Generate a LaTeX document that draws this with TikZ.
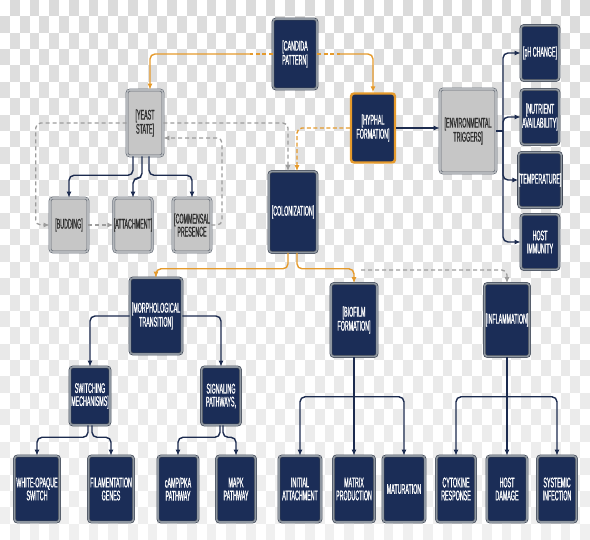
\documentclass[tikz,border=0pt]{standalone}
\usepackage{fontspec}
\usetikzlibrary{arrows.meta,calc}
\newfontfamily\cond{Liberation Sans}[FakeStretch=0.38,FakeBold=0.7]
\definecolor{navyfill}{HTML}{1B2D57}
\definecolor{navyline}{HTML}{1C2B4F}
\definecolor{bandgray}{HTML}{8E96A0}
\definecolor{edgedark}{HTML}{3A4250}
\definecolor{boxgray}{HTML}{C6C6C6}
\definecolor{bandlight}{HTML}{B5B8BC}
\definecolor{orangec}{HTML}{E59A2C}
\definecolor{dashgray}{HTML}{9C9C9C}
\definecolor{textdark}{HTML}{2E2E2E}
\tikzset{
  basebox/.style={rectangle, rounded corners=3pt, inner sep=0pt, align=center,
    font=\cond\fontsize{14}{13}\selectfont},
  navybox/.style={basebox, fill=navyfill, text=white, draw=edgedark, double=bandgray, line width=0.6pt, double distance=1.6pt},
  graybox/.style={basebox, fill=boxgray, text=textdark, draw=edgedark!80, double=bandlight, line width=0.6pt, double distance=1.6pt},
  orangebox/.style={basebox, fill=navyfill, text=white, draw=orangec, line width=2.4pt},
  sz/.style 2 args={minimum width=#1pt, minimum height=#2pt},
  tip/.style={-{Latex[length=6pt,width=5pt]}},
  nline/.style={draw=navyline, line width=1.4pt, rounded corners=5pt},
  oline/.style={draw=orangec, line width=1.4pt, rounded corners=5pt},
  odash/.style={oline, dash pattern=on 4pt off 2.5pt},
  gline/.style={draw=dashgray, line width=1.3pt, rounded corners=5pt, dash pattern=on 4pt off 3pt},
}
\begin{document}
\begin{tikzpicture}[x=1pt,y=-1pt]
\useasboundingbox (0,0) rectangle (590,540);
% checkerboard background
\fill[white] (0,0) rectangle (590,540);
\foreach \i in {0,...,59}{
  \foreach \j in {0,...,32}{
    \pgfmathtruncatemacro\k{mod(\i+\j,2)}
    \ifnum\k=1
      \pgfmathsetmacro\shd{14-8*\j/32}
      \fill[black!\shd] (\i*9.8333,\j*16.3637) rectangle ++(9.8333,16.3637);
    \fi
  }
}
% nodes
\node[navybox, sz={44}{70}] (cand) at (295,54) {[CANDIDA\\PATTERN]};
\node[graybox, sz={36}{66}] (yeast) at (145,123) {[YEAST\\STATE]};
\node[orangebox, sz={44}{69}] (hyph) at (373,128) {[HYPHAL\\FORMATION]};
\node[graybox, sz={56}{84}] (env) at (468,131) {[ENVIRONMENTAL\\TRIGGERS]};
\node[navybox, sz={38}{55}] (ph) at (540,53) {[pH CHANGE]};
\node[navybox, sz={38}{55}] (nutr) at (540,117) {[NUTRIENT\\AVAILABILITY]};
\node[navybox, sz={38}{55}] (temp) at (540,180) {[TEMPERATURE]};
\node[navybox, sz={38}{55}] (himm) at (540,242) {HOST\\IMMUNITY};
\node[graybox, sz={38}{54}] (bud) at (69,225) {[BUDDING]};
\node[graybox, sz={38}{54}] (att) at (133,225) {[ATTACHMENT]};
\node[graybox, sz={38}{54}] (comm) at (192,225) {[COMMENSAL\\PRESENCE};
\node[navybox, sz={48}{81}] (col) at (293,212) {[COLONIZATION]};
\node[navybox, sz={52}{76}] (morph) at (156,316) {[MORPHOLOGICAL\\TRANSITION]};
\node[navybox, sz={46}{73}] (bio) at (354,320) {[BIOFILM\\FORMATION]};
\node[navybox, sz={45}{73}] (infl) at (507,320) {[INFLAMMATION]};
\node[navybox, sz={40}{58}] (sw) at (90,396) {SWITCHING\\MECHANISMS]};
\node[navybox, sz={39}{58}] (sig) at (221,396) {SIGNALING\\PATHWAYS,};
\node[navybox, sz={45}{66}] (wo) at (37,489) {WHITE-OPAQUE\\SWITCH};
\node[navybox, sz={45}{66}] (fil) at (111,489) {FILAMENTATION\\GENES};
\node[navybox, sz={40}{66}] (camp) at (178,489) {cAMP/PKA\\PATHWAY};
\node[navybox, sz={39}{66}] (mapk) at (236,489) {MAPK\\PATHWAY};
\node[navybox, sz={42}{66}] (init) at (300,489) {INITIAL\\ATTACHMENT};
\node[navybox, sz={41}{66}] (matr) at (354,489) {MATRIX\\PRODUCTION};
\node[navybox, sz={42}{66}] (matu) at (404,489) {MATURATION};
\node[navybox, sz={39}{66}] (cyto) at (456,489) {CYTOKINE\\RESPONSE};
\node[navybox, sz={40}{66}] (hdam) at (507,489) {HOST\\DAMAGE};
\node[navybox, sz={39}{66}] (syst) at (557,489) {SYSTEMIC\\INFECTION};
% coordinates
\coordinate (c1) at (250,54);
\coordinate (c2) at (340,54);
\coordinate (eb) at (503,131);
\coordinate (gd) at (361,270);
% Candida -> yeast / hyphal
\draw[odash] (cand.west) -- (c1);
\draw[oline,tip] (c1) -| ([xshift=5pt]yeast.north);
\draw[odash] (cand.east) -- (c2);
\draw[oline,tip] (c2) -| (hyph.north);
% hyphal -> environmental
\draw[nline,tip] (hyph.east) -- (hyph.east -| env.west);
% environmental -> triggers
\draw[nline] (env.east) -- (eb);
\draw[nline,tip] (eb) |- (ph.west);
\draw[nline,tip] (eb) |- (nutr.west);
\draw[nline,tip] (eb) |- (temp.west);
\draw[nline,tip] (eb) |- (himm.west);
% to colonization
\draw[odash,tip] (hyph.west) -| ([xshift=4pt]col.north);
\draw[gline,tip] (yeast.east) -| ([xshift=-5pt]col.north);
% yeast loops
\draw[gline,tip] (comm.east) -| (222,138) -- ([yshift=-15pt]yeast.east);
\draw[gline,tip] (yeast.west) -- ++(-91,0) |- (bud.west);
\draw[gline,tip] (bud.east) -- (att.west);
% yeast -> children
\draw[nline,tip] ([xshift=-12pt]yeast.south) -- ++(0,19) -| (bud.north);
\draw[nline,tip] ([xshift=-3pt]yeast.south) -- ++(0,22) -| (att.north);
\draw[nline,tip] ([xshift=4pt]yeast.south) -- ++(0,19) -| (comm.north);
% colonization -> morph / biofilm
\draw[oline,tip] ([xshift=-5pt]col.south) -- ++(0,16) -| (morph.north);
\draw[oline,tip] ([xshift=4pt]col.south) -- ++(0,16) -| (bio.north);
\draw[gline,tip] (gd) -| (infl.north);
% morph -> switching / signaling
\draw[nline,tip] (morph.west) -| (sw.north);
\draw[nline,tip] (morph.east) -| (sig.north);
% switching / signaling -> leaves
\draw[nline,tip] ([xshift=-2pt]sw.south) -- ++(0,12) -| (wo.north);
\draw[nline,tip] ([xshift=2pt]sw.south) -- ++(0,12) -| (fil.north);
\draw[nline,tip] ([xshift=-1pt]sig.south) -- ++(0,12) -| (camp.north);
\draw[nline,tip] ([xshift=2pt]sig.south) -- ++(0,12) -| (mapk.north);
% biofilm -> leaves
\draw[nline] (bio.south) -- ++(0,40) coordinate (bj);
\draw[nline,tip] (bj) -| (init.north);
\draw[nline,tip] (bj) -- (matr.north);
\draw[nline,tip] (bj) -| (matu.north);
% inflammation -> leaves
\draw[nline] (infl.south) -- ++(0,40) coordinate (ij);
\draw[nline,tip] (ij) -| (cyto.north);
\draw[nline,tip] (ij) -- (hdam.north);
\draw[nline,tip] (ij) -| (syst.north);
\end{tikzpicture}
\end{document}
